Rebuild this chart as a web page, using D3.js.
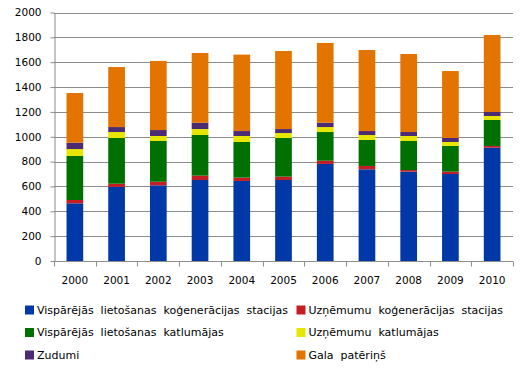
<!DOCTYPE html>
<html><head><meta charset="utf-8">
<script src="https://cdn.jsdelivr.net/npm/d3@7"></script>
<style>body{margin:0;background:#fff}svg{display:block}</style>
</head><body>
<svg id="c" width="520" height="373"></svg>
<script>
const years = ["2000","2001","2002","2003","2004","2005","2006","2007","2008","2009","2010"];
const seriesNames = [
  "Vispārējās lietošanas koģenerācijas stacijas",
  "Uzņēmumu koģenerācijas stacijas",
  "Vispārējās lietošanas katlumājas",
  "Uzņēmumu katlumājas",
  "Zudumi",
  "Gala patēriņš"
];
const seriesColors = ["#0038A8","#C41E24","#007000","#E6E600","#4B2C70","#E37400"];
const vispKogen  = [464,596,609,652,644,652,781,738,719,700,912];
const uznKogen   = [27,26,29,35,27,27,26,27,13,19,14];
const vispKatl   = [354,368,328,327,287,311,231,209,234,207,209];
const uznKatl    = [56,48,40,48,48,40,40,40,40,32,32];
const zudumi     = [51,40,48,51,40,32,35,32,32,32,32];
const galaPat    = [400,483,556,561,615,628,642,652,628,539,620];
const yTicks = [0,200,400,600,800,1000,1200,1400,1600,1800,2000];

const seriesValues = [vispKogen,uznKogen,vispKatl,uznKatl,zudumi,galaPat];
const table = years.map((y,i)=>{const o={year:y}; seriesNames.forEach((n,k)=>o[n]=seriesValues[k][i]); return o;});
const stacked = d3.stack().keys(seriesNames)(table);

const svg = d3.select("#c");
const pLeft=54, pRight=513, pTop=12.5, pBottom=261;
const x = d3.scaleBand().domain(years).range([pLeft,pRight]).paddingInner(0.6).paddingOuter(0.3);
const xb = d3.scaleBand().domain(years).range([pLeft,pRight]);
const y = d3.scaleLinear().domain([0,2000]).range([pBottom,pTop]);
const font = "Tahoma, Verdana, 'DejaVu Sans', sans-serif";
const grid = "#8c8c8c";

// gridlines
svg.append("g").selectAll("line").data(yTicks.filter(d=>d>0)).join("line")
  .attr("x1",pLeft).attr("x2",pRight).attr("y1",d=>Math.round(y(d))+0.5).attr("y2",d=>Math.round(y(d))+0.5)
  .attr("stroke",grid).attr("stroke-width",1);

// y axis
const ya = svg.append("g").attr("transform",`translate(${pLeft+0.5},0)`)
  .call(d3.axisLeft(y).tickValues(yTicks).tickFormat(d3.format("d")).tickSize(4).tickPadding(9).tickSizeOuter(0));
ya.select(".domain").attr("stroke",grid);
ya.selectAll(".tick line").attr("stroke",grid);
ya.selectAll("text").attr("font-family",font).attr("font-size","10.5px").attr("fill","#000");

// bars
svg.append("g").selectAll("g").data(stacked).join("g")
  .attr("fill",(d,i)=>seriesColors[i])
  .selectAll("rect").data(d=>d).join("rect")
  .attr("x",d=>x(d.data.year)).attr("width",x.bandwidth())
  .attr("y",d=>y(d[1])).attr("height",d=>y(d[0])-y(d[1]));

// x axis
const xg = svg.append("g").attr("transform",`translate(0,${pBottom+0.5})`);
xg.append("line").attr("x1",pLeft).attr("x2",pRight).attr("stroke",grid);
xg.selectAll("line.t").data(years.concat(["end"])).join("line").attr("class","t")
  .attr("x1",(d,i)=>Math.round(pLeft+i*xb.step())+0.5).attr("x2",(d,i)=>Math.round(pLeft+i*xb.step())+0.5)
  .attr("y1",0).attr("y2",5).attr("stroke",grid);
xg.selectAll("text").data(years).join("text")
  .attr("x",d=>xb(d)+xb.bandwidth()/2).attr("y",22)
  .attr("text-anchor","middle").attr("font-family",font).attr("font-size","10.5px").text(d=>d);

// legend
const legPos = [[25,310],[296.5,310],[25,332.5],[296.5,332.5],[25,355],[296.5,355]];
const leg = svg.append("g").selectAll("g").data(seriesNames).join("g")
  .attr("transform",(d,i)=>`translate(${legPos[i][0]},${legPos[i][1]})`);
leg.append("rect").attr("x",0).attr("y",-4.5).attr("width",9).attr("height",9).attr("fill",(d,i)=>seriesColors[i]);
leg.append("text").attr("x",12).attr("y",0).attr("dy","0.35em")
  .attr("font-family",font).attr("font-size","11px").attr("word-spacing","3.5px").text(d=>d);
</script>
</body></html>
